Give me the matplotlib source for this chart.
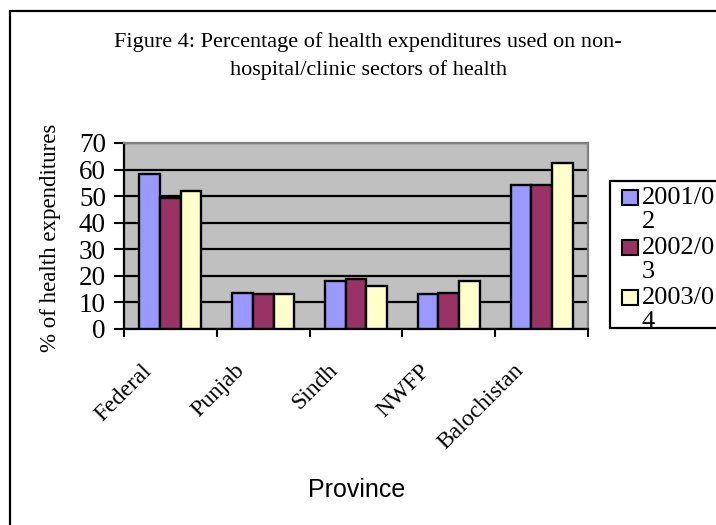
import matplotlib
matplotlib.use("Agg")
import matplotlib.pyplot as plt
import matplotlib.transforms as mtransforms
from matplotlib.patches import Rectangle
import numpy as np

# data
provinces = ["Federal", "Punjab", "Sindh", "NWFP", "Balochistan"]
years = ["2001/02", "2002/03", "2003/04"]
val_2001 = [58.3, 13.7, 18.2, 13.0, 54.3]
val_2002 = [49.3, 13.0, 18.9, 13.7, 54.3]
val_2003 = [52.0, 13.0, 16.0, 18.2, 62.6]
series = [val_2001, val_2002, val_2003]
colors = ["#9999FF", "#993366", "#FFFFCC"]

W, H = 716, 525
fig = plt.figure(figsize=(W / 100, H / 100), dpi=100)
serif = "Liberation Serif"


def fx(x):
    return x / W


def fy(y):
    return 1 - y / H


# outer chart border (runs off right / bottom)
fig.patches.append(Rectangle((fx(10), fy(560)), fx(760), fy(11) - fy(560),
                             transform=fig.transFigure, fill=False,
                             edgecolor="black", linewidth=1.6))

ax = fig.add_axes([fx(124), fy(329), fx(588) - fx(124), fy(143) - fy(329)])
ax.set_facecolor("#C0C0C0")

x = np.arange(len(provinces))
bw = 1 / 4.5
for i, vals in enumerate(series):
    ax.bar(x + (i - 1) * bw, vals, width=bw, color=colors[i],
           edgecolor="black", linewidth=1.7, zorder=3)

ax.set_xlim(-0.5, len(provinces) - 0.5)
ax.set_ylim(0, 70)
ax.set_yticks(np.arange(0, 71, 10))
ax.yaxis.grid(True, color="black", linewidth=1.6, zorder=1)
ax.set_axisbelow(True)

for s in ["top", "right"]:
    ax.spines[s].set_color("#808080")
    ax.spines[s].set_linewidth(1.6)
for s in ["left", "bottom"]:
    ax.spines[s].set_color("black")
    ax.spines[s].set_linewidth(1.6)

ax.tick_params(axis="y", length=7, width=1.5, pad=6, labelsize=19.5)
for lab in ax.get_yticklabels():
    lab.set_fontfamily(serif)

# category boundaries as ticks, labels at centres
ax.set_xticks(np.arange(-0.5, len(provinces)), minor=True)
ax.tick_params(axis="x", which="minor", length=6, width=1.5)
ax.set_xticks(x)
ax.set_xticklabels(provinces, rotation=45, ha="right", va="top",
                   rotation_mode="anchor", fontsize=17, fontfamily=serif)
ax.tick_params(axis="x", which="major", length=0, pad=0)
offset = mtransforms.ScaledTranslation(-29 / 100, -31 / 100, fig.dpi_scale_trans)
for lab in ax.get_xticklabels():
    lab.set_transform(lab.get_transform() + offset)

# titles / axis labels
fig.text(fx(368), fy(42), "Figure 4: Percentage of health expenditures used on non-",
         ha="center", va="center", fontsize=16, fontfamily=serif)
fig.text(fx(368), fy(70), "hospital/clinic sectors of health",
         ha="center", va="center", fontsize=16, fontfamily=serif)
fig.text(fx(51), fy(238), "% of health expenditures", rotation=90,
         ha="center", va="center", fontsize=16.5, fontfamily=serif)
fig.text(fx(357), fy(490), "Province", ha="center", va="center",
         fontsize=18, fontfamily="Liberation Sans")

# legend box, labels wrap and get clipped like the original
box = Rectangle((fx(610), fy(328)), fx(720) - fx(610), fy(181) - fy(328),
                transform=fig.transFigure, facecolor="white",
                edgecolor="black", linewidth=1.6, zorder=5)
fig.patches.append(box)
for i, yr in enumerate(years):
    base = 206 + 50 * i
    fig.patches.append(Rectangle((fx(622), fy(base - 1)), fx(16), fy(0) - fy(15),
                                 transform=fig.transFigure, facecolor=colors[i],
                                 edgecolor="black", linewidth=1.5, zorder=6))
    t = fig.text(fx(642), fy(base - 19), yr[:-1] + "\n" + yr[-1], ha="left",
                 va="top", fontsize=19, fontfamily=serif, linespacing=1.1,
                 zorder=7)
    t.set_clip_path(box)

fig.savefig("out.png", dpi=100)
